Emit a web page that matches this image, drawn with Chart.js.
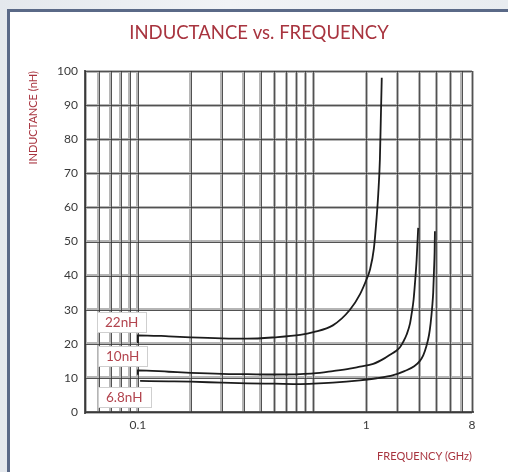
<!DOCTYPE html>
<html>
<head>
<meta charset="utf-8">
<title>Inductance vs. Frequency</title>
<script src="https://cdn.jsdelivr.net/npm/chart.js@4.4.1/dist/chart.umd.min.js"></script>
<style>
    html, body { margin: 0; padding: 0; }
    body {
        width: 508px;
        height: 472px;
        overflow: hidden;
        position: relative;
        background: linear-gradient(90deg, #e4e8ed, #f1f3f6 45%, #e8ecf0);
    }
    .card {
        position: absolute;
        left: 7px;
        top: 9px;
        width: 530px;
        height: 490px;
        background: #fff;
        border-left: 3px solid #5a6987;
        border-top: 3px solid #5a6987;
    }
    #inductanceChart { position: absolute; left: 0; top: 0; }
</style>
</head>
<body>
<div class="card"></div>
<canvas id="inductanceChart" width="508" height="472"></canvas>
<script>
// Valores: frecuencia (GHz) e inductancia (nH)
const seriesNames = ['22nH', '10nH', '6.8nH'];

const freq22 = [0.1, 0.1, 0.15, 0.2, 0.3, 0.42, 0.6, 0.84, 1.0, 1.29, 1.61, 1.84, 2.01, 2.1, 2.21, 2.29, 2.34, 2.39, 2.42, 2.45];
const ind22  = [20.2, 22.5, 22.2, 21.9, 21.6, 21.5, 21.9, 22.6, 23.4, 25.4, 29.9, 34.5, 39, 41.8, 48, 57, 64, 74, 86, 98];

const freq10 = [0.1, 0.1, 0.15, 0.2, 0.3, 0.42, 0.6, 0.84, 1.0, 1.29, 1.61, 1.84, 2.19, 2.55, 2.73, 2.95, 3.11, 3.24, 3.4, 3.55, 3.63, 3.72, 3.79, 3.87, 3.95];
const ind10  = [10.9, 12.2, 11.8, 11.5, 11.2, 11.1, 11.0, 11.1, 11.3, 12.0, 12.7, 13.3, 14.1, 15.8, 16.8, 17.9, 19.0, 20.5, 22.8, 26, 29, 33, 38, 44.6, 54];

const freq68 = [0.103, 0.15, 0.2, 0.3, 0.42, 0.6, 0.84, 1.0, 1.29, 1.84, 2.29, 2.85, 3.3, 3.75, 4.04, 4.22, 4.41, 4.55, 4.65, 4.75, 4.81, 4.86, 4.9, 4.92];
const ind68  = [9.1, 9.0, 8.9, 8.6, 8.4, 8.3, 8.2, 8.3, 8.6, 9.3, 9.9, 10.8, 12.0, 13.4, 15.0, 16.6, 19.5, 22.5, 26, 31, 35, 41.5, 47, 53];

// Líneas de la rejilla logarítmica (GHz) y rótulos del eje
const xGridValues = [0.05, 0.06, 0.07, 0.08, 0.09, 0.1, 0.2, 0.3, 0.4, 0.5, 0.6, 0.7, 0.8, 0.9, 1, 2, 3, 4, 5, 6, 7, 8];
const xTickValues = [0.1, 2, 8];
const xTickTexts  = ['0.1', '1', '8'];
const yTicks = [0, 10, 20, 30, 40, 50, 60, 70, 80, 90, 100];

const RED = '#a8343f';
const FONT = 'Lato, "Open Sans", sans-serif';

function toPoints(xs, ys) {
    return xs.map((v, i) => ({ x: v, y: ys[i] }));
}

// Título del gráfico
const chartTitle = {
    id: 'chartTitle',
    afterDraw(chart, args, opts) {
        const ctx = chart.ctx;
        ctx.save();
        ctx.font = `18.5px ${FONT}`;
        ctx.fillStyle = RED;
        ctx.textAlign = 'center';
        ctx.textBaseline = 'middle';
        ctx.fillText(opts.text, opts.x, opts.y);
        ctx.restore();
    }
};

// Trazo oscuro fino en el centro de cada línea de la rejilla (aspecto de papel milimetrado)
const gridCores = {
    id: 'gridCores',
    beforeDatasetsDraw(chart, args, opts) {
        const { ctx, chartArea: a, scales: { x, y } } = chart;
        ctx.save();
        ctx.strokeStyle = opts.color;
        ctx.lineWidth = 1;
        ctx.beginPath();
        x.ticks.forEach(t => {
            const px = Math.round(x.getPixelForValue(t.value)) + 0.5;
            ctx.moveTo(px, a.top);
            ctx.lineTo(px, a.bottom);
        });
        y.ticks.forEach(t => {
            const py = Math.round(y.getPixelForValue(t.value)) + 0.5;
            ctx.moveTo(a.left, py);
            ctx.lineTo(a.right, py);
        });
        ctx.stroke();
        ctx.restore();
    }
};

// Cajas con el nombre de cada curva
const curveLabels = {
    id: 'curveLabels',
    afterDatasetsDraw(chart, args, opts) {
        const { ctx, scales: { x, y } } = chart;
        ctx.save();
        ctx.font = `13.5px ${FONT}`;
        opts.anchors.forEach((a, i) => {
            const text = seriesNames[i];
            const left = Math.round(x.getPixelForValue(a.x));
            const cy = Math.round(y.getPixelForValue(a.y));
            const w = Math.round(ctx.measureText(text).width) + 16;
            const h = 20;
            ctx.fillStyle = '#fff';
            ctx.fillRect(left, cy - h / 2, w, h);
            ctx.strokeStyle = '#cfcfcf';
            ctx.lineWidth = 1;
            ctx.strokeRect(left + 0.5, cy - h / 2 + 0.5, w, h);
            ctx.fillStyle = '#b2444e';
            ctx.textBaseline = 'middle';
            ctx.fillText(text, left + 8, cy + 1);
        });
        ctx.restore();
    }
};

const curveStyle = {
    borderColor: '#1c1c1c',
    borderWidth: 1.8,
    pointRadius: 0,
    showLine: true,
    cubicInterpolationMode: 'monotone',
    fill: false
};

const ctx = document.getElementById('inductanceChart');
new Chart(ctx, {
    type: 'scatter',
    data: {
        datasets: [
            { label: seriesNames[0], data: toPoints(freq22, ind22), ...curveStyle },
            { label: seriesNames[1], data: toPoints(freq10, ind10), ...curveStyle },
            { label: seriesNames[2], data: toPoints(freq68, ind68), ...curveStyle }
        ]
    },
    options: {
        responsive: false,
        animation: false,
        layout: { padding: { top: 71, right: 36, left: 0, bottom: 0 } },
        plugins: {
            legend: { display: false },
            tooltip: { enabled: false },
            chartTitle: { text: 'INDUCTANCE vs. FREQUENCY', x: 259, y: 33 },
            gridCores: { color: 'rgba(50,50,50,0.75)' },
            curveLabels: {
                anchors: [
                    { x: 0.0585, y: 26.4 },
                    { x: 0.0595, y: 16.3 },
                    { x: 0.0595, y: 4.5 }
                ]
            }
        },
        scales: {
            x: {
                type: 'logarithmic',
                min: 0.05,
                max: 8,
                afterBuildTicks: scale => {
                    scale.ticks = xGridValues.map(v => ({ value: v }));
                },
                afterFit: scale => { scale.height = 60; },
                ticks: {
                    autoSkip: false,
                    maxRotation: 0,
                    padding: 6,
                    color: '#3a3a3a',
                    font: { family: FONT, size: 12 },
                    callback: value => {
                        const i = xTickValues.findIndex(t => Math.abs(t - value) < 1e-9);
                        return i >= 0 ? xTickTexts[i] : '';
                    }
                },
                grid: { color: '#b5b5b5', lineWidth: 3, drawTicks: false },
                border: { color: '#555', width: 2 },
                title: {
                    display: true,
                    text: 'FREQUENCY (GHz)',
                    align: 'end',
                    color: RED,
                    font: { family: FONT, size: 11 },
                    padding: { top: 0, bottom: 9 }
                }
            },
            y: {
                min: 0,
                max: 100,
                afterBuildTicks: scale => {
                    scale.ticks = yTicks.map(v => ({ value: v }));
                },
                afterFit: scale => { scale.width = 85; },
                ticks: {
                    padding: 7,
                    color: '#3a3a3a',
                    font: { family: FONT, size: 12 }
                },
                grid: { color: '#b5b5b5', lineWidth: 3, drawTicks: false },
                border: { color: '#555', width: 2 },
                title: {
                    display: true,
                    text: 'INDUCTANCE (nH)',
                    align: 'end',
                    color: RED,
                    font: { family: FONT, size: 11 },
                    padding: { top: 27, bottom: 0 }
                }
            }
        }
    },
    plugins: [chartTitle, gridCores, curveLabels]
});
</script>
</body>
</html>
